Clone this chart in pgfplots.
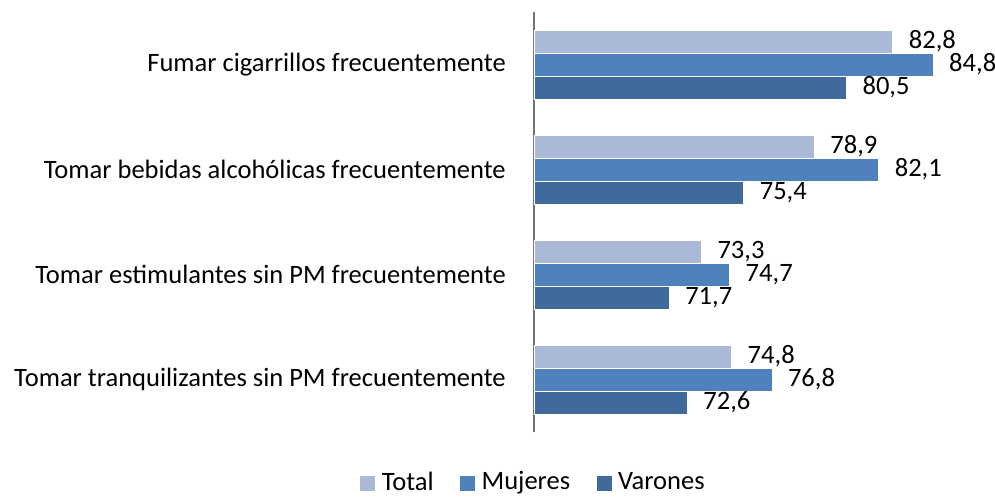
\documentclass[border=0pt]{standalone}
\usepackage{pgfplots}
\pgfplotsset{compat=1.18}
\usepackage{fontspec}
\setmainfont{Carlito}
\definecolor{cTotal}{HTML}{AAB9D7}
\definecolor{cMuj}{HTML}{4F81BD}
\definecolor{cVar}{HTML}{406A9C}
\newcommand{\ff}{\fontsize{19.9pt}{24pt}\selectfont}
\begin{document}
\ff
\begin{tikzpicture}
\useasboundingbox (-400.5pt,-48.75pt) rectangle (345.75pt,324pt);
\begin{axis}[
  at={(0,0)}, anchor=south west,
  scale only axis,
  width=302.25pt, height=315pt,
  xmin=65, xmax=85,
  ymin=-0.5, ymax=3.5,
  axis x line=none,
  axis y line=left,
  axis line style={draw=gray!90!black, -, line width=0.8pt},
  ytick={0,1,2,3},
  yticklabels={Tomar tranquilizantes sin PM frecuentemente,
               Tomar estimulantes sin PM frecuentemente,
               Tomar bebidas alcohólicas frecuentemente,
               Fumar cigarrillos frecuentemente},
  major tick length=0pt,
  yticklabel style={anchor=east, inner sep=0pt, xshift=-21pt, font=\ff},
  xbar, bar width=17.25pt,
  clip=false,
  nodes near coords,
  nodes near coords style={anchor=west, inner sep=0pt, xshift=12pt, font=\ff, text=black},
  /pgf/number format/.cd, use comma, fixed, fixed zerofill, precision=1, assume math mode=true,
  /pgfplots/.cd,
  legend style={draw=none, at={(-0.005,-0.121)}, anchor=center,
    legend columns=-1, font=\ff,
    nodes={inner sep=0pt},
    /tikz/every odd column/.append style={column sep=4.5pt},
    /tikz/every even column/.append style={column sep=19pt}},
  legend image code/.code={\fill[#1] (0pt,-6pt) rectangle (12pt,6pt);},
]
\addplot[fill=cTotal, draw=white, line width=0.4pt, bar shift=17.25pt] coordinates {(74.8,0) (73.3,1) (78.9,2) (82.8,3)};
\addplot[fill=cMuj, draw=white, line width=0.4pt, bar shift=0pt] coordinates {(76.8,0) (74.7,1) (82.1,2) (84.8,3)};
\addplot[fill=cVar, draw=white, line width=0.4pt, bar shift=-17.25pt] coordinates {(72.6,0) (71.7,1) (75.4,2) (80.5,3)};
\legend{Total, Mujeres, Varones}
\end{axis}
\end{tikzpicture}
\end{document}
